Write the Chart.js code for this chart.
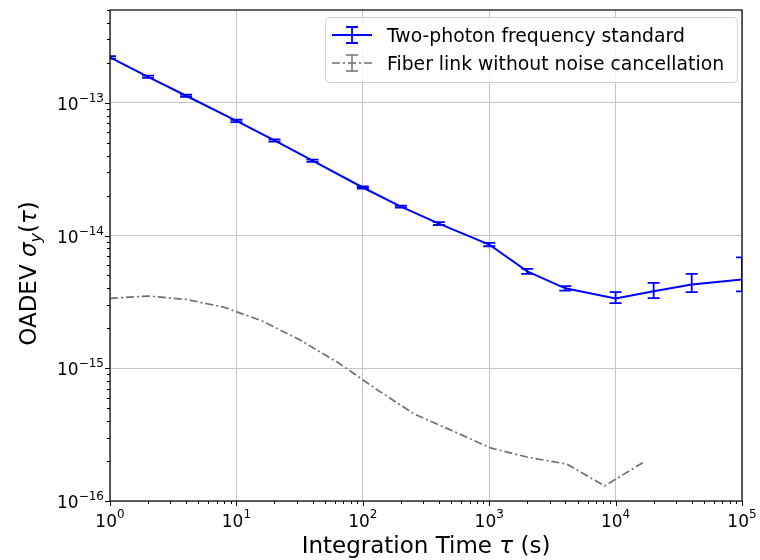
<!DOCTYPE html>
<html><head><meta charset="utf-8">
<script src="https://cdn.jsdelivr.net/npm/chart.js@4/dist/chart.umd.min.js"></script>
<style>html,body{margin:0;padding:0;background:#fff}#wrap{width:760px;height:560px;position:relative}</style>
</head><body><div id="wrap"><canvas id="c"></canvas></div>
<script>
// ---- data ----
const blueTau  = [1,2,4,10,20,40,100,200,400,1000,2000,4000,10000,20000,40000,100000];
const blueVal  = [2.2e-13,1.57e-13,1.13e-13,7.3e-14,5.2e-14,3.66e-14,2.3e-14,1.65e-14,1.23e-14,8.55e-15,5.37e-15,4.0e-15,3.36e-15,3.81e-15,4.28e-15,4.67e-15];
const blueLow  = [2.15e-13,1.54e-13,1.11e-13,7.15e-14,5.1e-14,3.59e-14,2.26e-14,1.62e-14,1.20e-14,8.3e-15,5.15e-15,3.85e-15,3.1e-15,3.38e-15,3.75e-15,3.79e-15];
const blueHigh = [2.25e-13,1.60e-13,1.15e-13,7.45e-14,5.3e-14,3.73e-14,2.34e-14,1.68e-14,1.26e-14,8.8e-15,5.6e-15,4.15e-15,3.75e-15,4.4e-15,5.15e-15,6.84e-15];
const grayTau  = [1,2,4,8,16,32,64,128,256,512,1024,2048,4096,8192,16384];
const grayVal  = [3.36e-15,3.50e-15,3.30e-15,2.88e-15,2.27e-15,1.63e-15,1.10e-15,6.95e-16,4.51e-16,3.38e-16,2.51e-16,2.13e-16,1.90e-16,1.30e-16,1.94e-16];
const xMajorTicks = [1,10,100,1000,10000,100000];
const xTickExp    = ['0','1','2','3','4','5'];
const yMajorTicks = [1e-16,1e-15,1e-14,1e-13];
const yTickExp    = ['\u221216','\u221215','\u221214','\u221213'];
const seriesNames = ['Two-photon frequency standard','Fiber link without noise cancellation'];
const xTitleParts = [['Integration Time ',''],['\u03c4','italic'],[' (s)','']];
const yTitleParts = [['OADEV ',''],['\u03c3','italic'],['y','italic sub'],['(',''],['\u03c4','italic'],[')','']];

const FONT = '"DejaVu Sans", sans-serif';
const BLUE = '#0000ff', GRAY = '#707070';

function font(sz, it){ return (it ? 'italic ' : '') + sz + 'px ' + FONT; }

const deco = {
  id: 'deco',
  afterDatasetsDraw(chart) {
    const ctx = chart.ctx, a = chart.chartArea, xs = chart.scales.x, ys = chart.scales.y;
    ctx.save();
    ctx.beginPath(); ctx.rect(a.left, a.top, a.right - a.left, a.bottom - a.top); ctx.clip();
    ctx.strokeStyle = BLUE; ctx.lineWidth = 1.8;
    blueTau.forEach((t, i) => {
      const px = xs.getPixelForValue(t);
      const y1 = ys.getPixelForValue(blueLow[i]), y2 = ys.getPixelForValue(blueHigh[i]);
      ctx.beginPath();
      ctx.moveTo(px, y1); ctx.lineTo(px, y2);
      ctx.moveTo(px - 6, y1); ctx.lineTo(px + 6, y1);
      ctx.moveTo(px - 6, y2); ctx.lineTo(px + 6, y2);
      ctx.stroke();
    });
    ctx.restore();
  },
  afterDraw(chart) {
    const ctx = chart.ctx, a = chart.chartArea, xs = chart.scales.x, ys = chart.scales.y;
    ctx.save();
    // frame
    ctx.strokeStyle = '#000'; ctx.lineWidth = 1.2;
    ctx.strokeRect(a.left, a.top, a.right - a.left, a.bottom - a.top);
    // ticks
    ctx.lineWidth = 1;
    ctx.beginPath();
    xMajorTicks.forEach(v => { const p = Math.round(xs.getPixelForValue(v)) + 0.5; ctx.moveTo(p, a.bottom); ctx.lineTo(p, a.bottom + 5); });
    yMajorTicks.forEach(v => { const p = Math.round(ys.getPixelForValue(v)) + 0.5; ctx.moveTo(a.left, p); ctx.lineTo(a.left - 5, p); });
    for (let d = 0; d < 5; d++) for (let k = 2; k <= 9; k++) {
      const p = Math.round(xs.getPixelForValue(k * Math.pow(10, d))) + 0.5; ctx.moveTo(p, a.bottom); ctx.lineTo(p, a.bottom + 3);
    }
    for (let d = -16; d <= -13; d++) for (let k = 2; k <= 9; k++) {
      const v = k * Math.pow(10, d); if (v > ys.max) continue;
      const p = Math.round(ys.getPixelForValue(v)) + 0.5; ctx.moveTo(a.left, p); ctx.lineTo(a.left - 3, p);
    }
    ctx.stroke();
    // tick labels
    ctx.fillStyle = '#000'; ctx.textAlign = 'left'; ctx.textBaseline = 'alphabetic';
    const BS = 17, SS = 12;
    yMajorTicks.forEach((v, i) => {
      const p = ys.getPixelForValue(v);
      ctx.font = font(SS); const ws = ctx.measureText(yTickExp[i]).width;
      ctx.font = font(BS); const wb = ctx.measureText('10').width;
      const right = a.left - 6;
      ctx.fillText('10', right - ws - wb, p + 7);
      ctx.font = font(SS); ctx.fillText(yTickExp[i], right - ws, p - 1);
    });
    xMajorTicks.forEach((v, i) => {
      const p = xs.getPixelForValue(v);
      ctx.font = font(SS); const ws = ctx.measureText(xTickExp[i]).width;
      ctx.font = font(BS); const wb = ctx.measureText('10').width;
      const x0 = p - (wb + ws) / 2;
      ctx.fillText('10', x0, a.bottom + 26);
      ctx.font = font(SS); ctx.fillText(xTickExp[i], x0 + wb, a.bottom + 17);
    });
    // axis titles
    const TS = 23;
    function drawParts(parts, cx, base) {
      const segs = parts.map(([t, st]) => {
        const sub = st.includes('sub'), it = st.includes('italic');
        const sz = sub ? Math.round(TS * 0.7) : TS;
        ctx.font = font(sz, it);
        return { t, f: ctx.font, w: ctx.measureText(t).width, dy: sub ? 5 : 0 };
      });
      const tot = segs.reduce((s, g) => s + g.w, 0);
      let x = cx - tot / 2;
      segs.forEach(g => { ctx.font = g.f; ctx.fillText(g.t, x, base + g.dy); x += g.w; });
    }
    drawParts(xTitleParts, (a.left + a.right) / 2, 553);
    ctx.save();
    ctx.translate(36, (a.top + a.bottom) / 2 + 18);
    ctx.rotate(-Math.PI / 2);
    drawParts(yTitleParts, 0, 0);
    ctx.restore();
    // legend
    const LX = 325, LY = 17, LW = 412, LH = 65, LS = 18.8;
    ctx.beginPath();
    if (ctx.roundRect) ctx.roundRect(LX + 0.5, LY + 0.5, LW, LH, 4); else ctx.rect(LX + 0.5, LY + 0.5, LW, LH);
    ctx.fillStyle = 'rgba(255,255,255,0.85)'; ctx.fill();
    ctx.strokeStyle = '#d0d0d0'; ctx.lineWidth = 1; ctx.stroke();
    const rows = [LY + 18, LY + 46];
    const cols = [BLUE, GRAY];
    rows.forEach((ry, i) => {
      ctx.strokeStyle = cols[i];
      ctx.lineWidth = i === 0 ? 2 : 1.7;
      ctx.setLineDash(i === 0 ? [] : [8, 3, 2, 3]);
      ctx.beginPath(); ctx.moveTo(332, ry); ctx.lineTo(372, ry); ctx.stroke();
      ctx.setLineDash([]);
      ctx.lineWidth = i === 0 ? 1.8 : 1.4;
      ctx.beginPath();
      ctx.moveTo(352, ry - 8); ctx.lineTo(352, ry + 8);
      ctx.moveTo(346, ry - 8); ctx.lineTo(358, ry - 8);
      ctx.moveTo(346, ry + 8); ctx.lineTo(358, ry + 8);
      ctx.stroke();
      ctx.fillStyle = '#000'; ctx.font = font(LS);
      ctx.fillText(seriesNames[i], 387, ry + 7);
    });
    ctx.restore();
  }
};

new Chart(document.getElementById('c'), {
  type: 'line',
  data: {
    datasets: [
      { label: seriesNames[0], data: blueTau.map((t, i) => ({ x: t, y: blueVal[i] })),
        borderColor: BLUE, backgroundColor: BLUE, borderWidth: 2, pointRadius: 0, tension: 0, fill: false },
      { label: seriesNames[1], data: grayTau.map((t, i) => ({ x: t, y: grayVal[i] })),
        borderColor: GRAY, backgroundColor: GRAY, borderWidth: 1.7, borderDash: [8, 3, 2, 3], pointRadius: 0, tension: 0, fill: false }
    ]
  },
  options: {
    responsive: true, maintainAspectRatio: false, animation: false,
    layout: { padding: { top: 10, right: 18, left: 0, bottom: 0 } },
    plugins: { legend: { display: false }, tooltip: { enabled: false } },
    scales: {
      x: { type: 'logarithmic', min: 1, max: 1e5, position: 'bottom',
        afterBuildTicks: s => { s.ticks = xMajorTicks.map(v => ({ value: v })); },
        afterFit: s => { s.height = 59; },
        ticks: { display: false },
        grid: { color: '#c4c4c4', lineWidth: 1, drawTicks: false },
        border: { display: false } },
      y: { type: 'logarithmic', min: 1e-16, max: 5.0e-13, position: 'left',
        afterBuildTicks: s => { s.ticks = yMajorTicks.map(v => ({ value: v })); },
        afterFit: s => { s.width = 110; },
        ticks: { display: false },
        grid: { color: '#c4c4c4', lineWidth: 1, drawTicks: false },
        border: { display: false } }
    }
  },
  plugins: [deco]
});
</script>
</body></html>
